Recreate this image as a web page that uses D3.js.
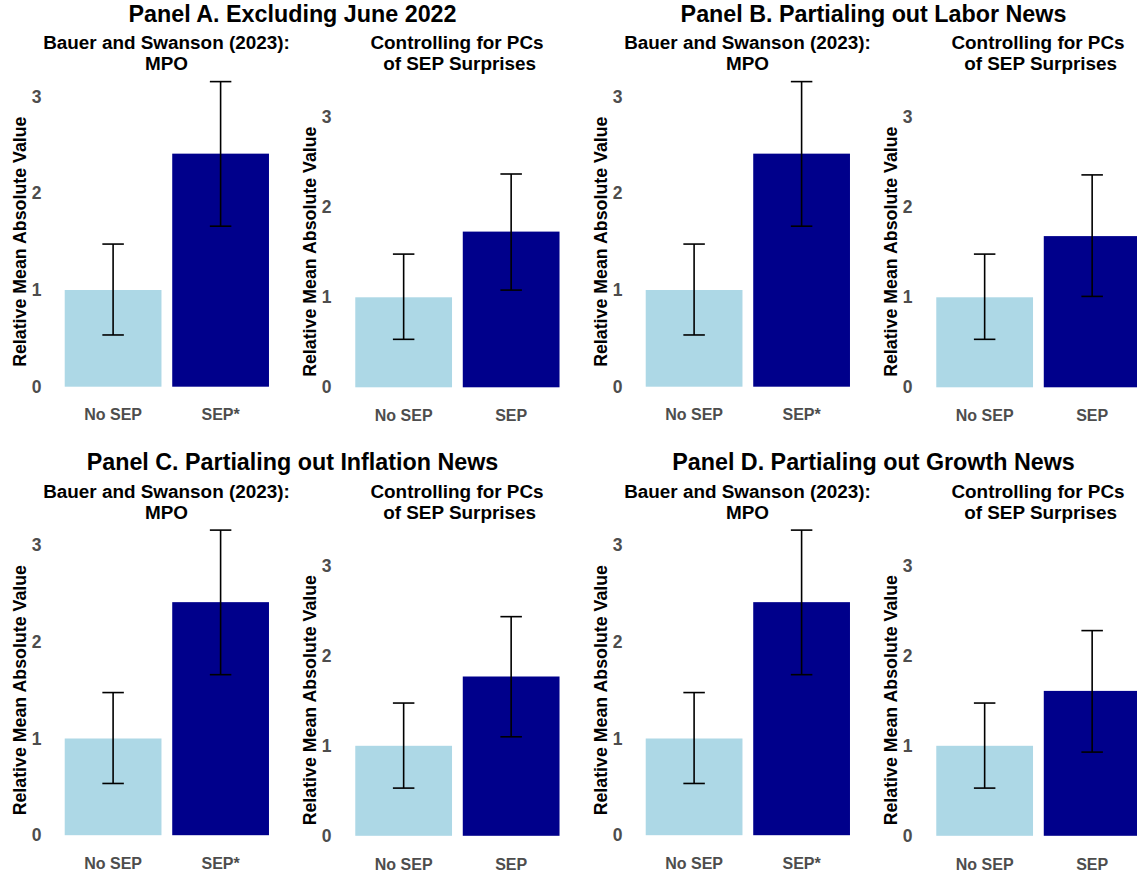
<!DOCTYPE html>
<html>
<head>
<meta charset="utf-8">
<script src="https://cdn.jsdelivr.net/npm/d3@7"></script>
<style>
  html, body { margin: 0; padding: 0; background: #fff; }
  svg { display: block; font-family: "Liberation Sans", Arial, Helvetica, sans-serif; }
</style>
</head>
<body>
<svg id="chart" width="1137" height="875"></svg>
<script>
// ---- data ----
const panelTitles = [
  "Panel A. Excluding June 2022",
  "Panel B. Partialing out Labor News",
  "Panel C. Partialing out Inflation News",
  "Panel D. Partialing out Growth News"
];
const mpoTitle = ["Bauer and Swanson (2023):", "MPO"];
const pcTitle = ["Controlling for PCs", " of SEP Surprises"];
const mpoCategories = ["No SEP", "SEP*"];
const pcCategories = ["No SEP", "SEP"];
const yTickValues = [0, 1, 2, 3];
const yAxisLabel = "Relative Mean Absolute Value";

// Bauer and Swanson (2023) MPO: relative mean absolute value and interval bounds, per panel
const mpoMean = [[1.00, 2.41], [1.00, 2.41], [1.00, 2.41], [1.00, 2.41]];
const mpoLow  = [[0.535, 1.66], [0.535, 1.66], [0.535, 1.66], [0.535, 1.66]];
const mpoHigh = [[1.475, 3.155], [1.475, 3.155], [1.475, 3.155], [1.475, 3.155]];

// Controlling for PCs of SEP surprises, per panel
const pcMean = [[1.00, 1.73], [1.00, 1.68], [1.00, 1.77], [1.00, 1.61]];
const pcLow  = [[0.533, 1.08], [0.533, 1.01], [0.53, 1.10], [0.53, 0.93]];
const pcHigh = [[1.48, 2.37], [1.48, 2.36], [1.475, 2.435], [1.475, 2.28]];

// ---- layout ----
const panelOffsets = [[0, 0], [581, 0], [0, 448.5], [581, 448.5]];
const barColors = ["#ADD8E6", "#00008B"];
const tickColor = "#4D4D4D";
const font = "'Liberation Sans', Arial, Helvetica, sans-serif";

const mpoFrame = {
  band: [59.35, 274.35], zeroY: 386.7, threeY: 96.6,
  tickX: 41.5, axisTitleX: 25.5, axisTitleY: 241.7,
  titleX: [166.5, 166.5]
};
const pcFrame = {
  band: [349.9, 564.9], zeroY: 387.3, threeY: 117.3,
  tickX: 331.5, axisTitleX: 315.5, axisTitleY: 251.7,
  titleX: [457, 457]
};

const svg = d3.select("#chart");

function drawSubplot(g, frame, categories, titleLines, mean, low, high) {
  const x = d3.scaleBand().domain(categories).range(frame.band)
    .paddingInner(0.1).paddingOuter(0.05);
  const y = d3.scaleLinear().domain([0, 3]).range([frame.zeroY, frame.threeY]);

  const rows = categories.map((c, i) => ({ cat: c, mean: mean[i], low: low[i], high: high[i], i }));

  // bars
  g.selectAll("rect.bar").data(rows).enter().append("rect")
    .attr("class", "bar")
    .attr("x", d => x(d.cat))
    .attr("width", x.bandwidth())
    .attr("y", d => y(d.mean))
    .attr("height", d => y(0) - y(d.mean))
    .attr("fill", d => barColors[d.i]);

  // error bars
  const capHalf = x.step() * 0.1;
  const cx = d => x(d.cat) + x.bandwidth() / 2;
  const eb = g.selectAll("g.err").data(rows).enter().append("g").attr("class", "err")
    .attr("stroke", "#000").attr("stroke-width", 1.6).attr("fill", "none");
  eb.append("line")
    .attr("x1", cx).attr("x2", cx)
    .attr("y1", d => y(d.low)).attr("y2", d => y(d.high));
  eb.append("line")
    .attr("x1", d => cx(d) - capHalf).attr("x2", d => cx(d) + capHalf)
    .attr("y1", d => y(d.high)).attr("y2", d => y(d.high));
  eb.append("line")
    .attr("x1", d => cx(d) - capHalf).attr("x2", d => cx(d) + capHalf)
    .attr("y1", d => y(d.low)).attr("y2", d => y(d.low));

  // y axis (labels only)
  const ya = g.append("g").attr("transform", `translate(${frame.tickX},0)`)
    .call(d3.axisLeft(y).tickValues(yTickValues).tickFormat(d3.format("d")).tickSize(0).tickPadding(0));
  ya.select(".domain").remove();
  ya.selectAll("text").attr("fill", tickColor).attr("font-size", 17.5)
    .attr("font-weight", "bold").attr("font-family", font);

  // x axis (labels only)
  const xa = g.append("g").attr("transform", `translate(0,${frame.zeroY + 22.4})`)
    .call(d3.axisBottom(x).tickSize(0).tickPadding(0));
  xa.select(".domain").remove();
  xa.selectAll("text").attr("fill", tickColor).attr("font-size", 16)
    .attr("font-weight", "bold").attr("font-family", font);

  // y axis title
  g.append("text")
    .attr("transform", `translate(${frame.axisTitleX},${frame.axisTitleY}) rotate(-90)`)
    .attr("text-anchor", "middle")
    .attr("font-size", 17.8).attr("font-weight", "bold").attr("fill", "#000")
    .text(yAxisLabel);

  // subplot title
  const t = g.append("text").attr("text-anchor", "middle")
    .attr("font-size", 18.9).attr("font-weight", "bold").attr("fill", "#000")
    .style("white-space", "pre");
  titleLines.forEach((line, k) => {
    t.append("tspan").attr("x", frame.titleX[k]).attr("y", 49.3 + k * 20.7).text(line);
  });
}

panelTitles.forEach((title, p) => {
  const [dx, dy] = panelOffsets[p];
  const g = svg.append("g").attr("transform", `translate(${dx},${dy})`);

  g.append("text")
    .attr("x", 292.5).attr("y", 21.7)
    .attr("text-anchor", "middle")
    .attr("font-size", 23.3).attr("font-weight", "bold").attr("fill", "#000")
    .text(title);

  drawSubplot(g.append("g"), mpoFrame, mpoCategories, mpoTitle, mpoMean[p], mpoLow[p], mpoHigh[p]);
  drawSubplot(g.append("g"), pcFrame, pcCategories, pcTitle, pcMean[p], pcLow[p], pcHigh[p]);
});
</script>
</body>
</html>
